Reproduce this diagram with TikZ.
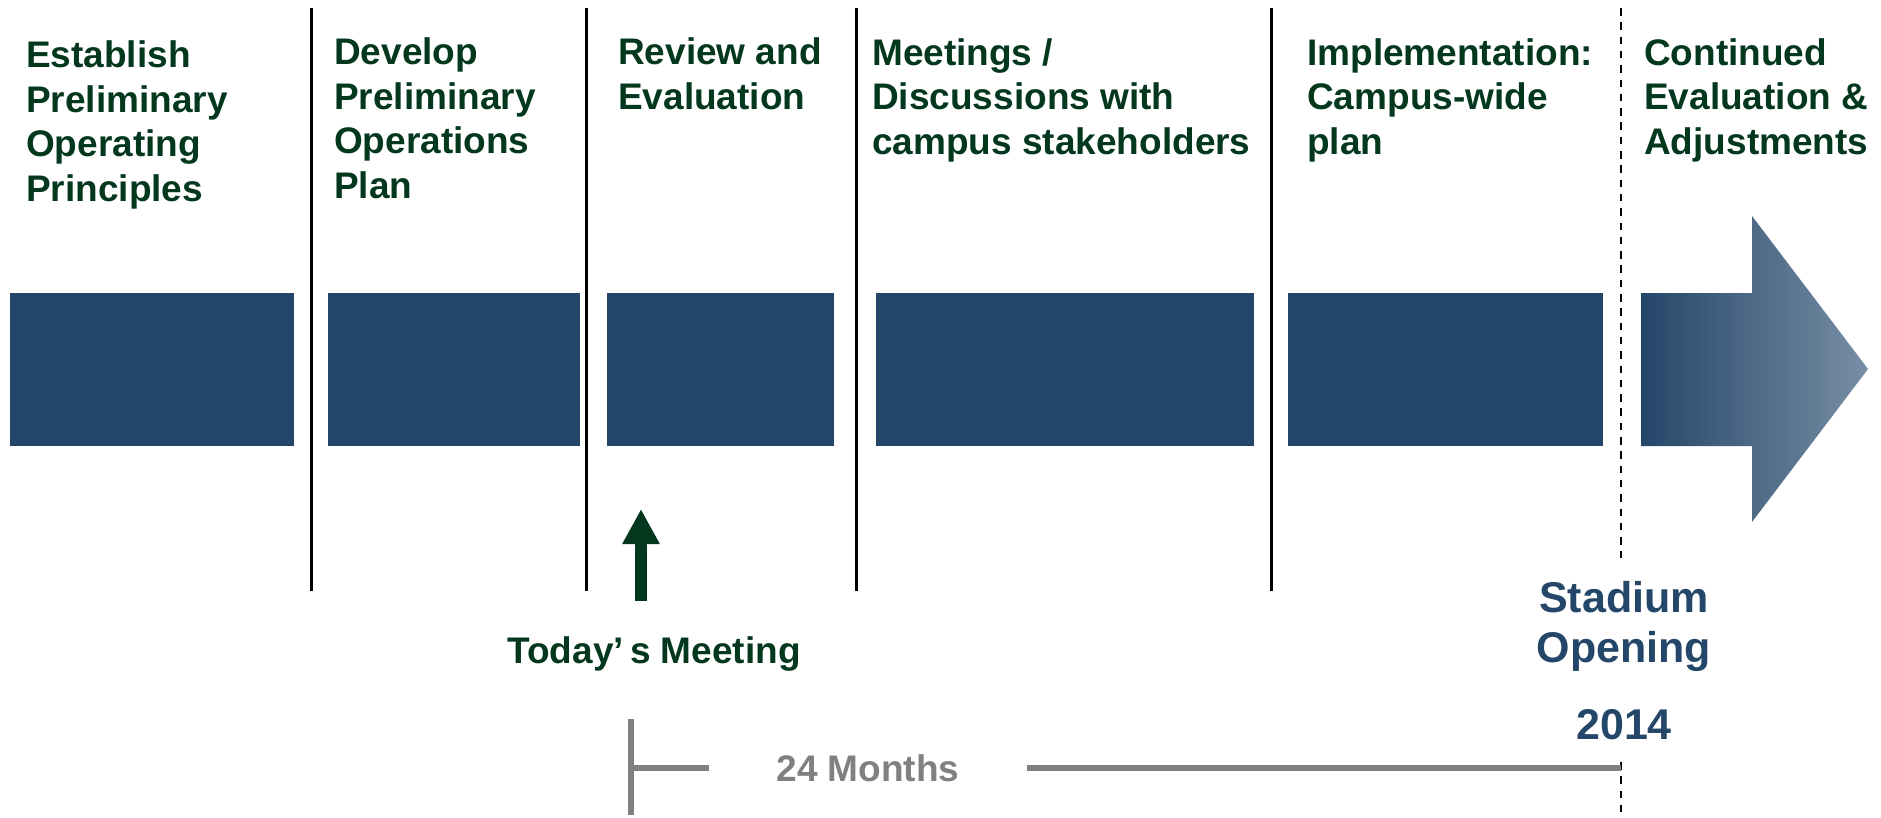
\documentclass[tikz,border=0pt]{standalone}
\usepackage{fontspec}
\setmainfont{Liberation Sans}
\usetikzlibrary{positioning,arrows.meta}

\definecolor{navy}{RGB}{36,70,105}
\definecolor{navylight}{RGB}{120,142,165}
\definecolor{darkgreen}{RGB}{3,56,30}
\definecolor{timegray}{RGB}{128,128,128}

\begin{document}
\begin{tikzpicture}[x=1pt,y=-1pt]
	\tikzstyle{bar} = [rectangle, fill=navy, inner sep=0pt, anchor=north west, minimum height=153pt];
	\tikzstyle{phase} = [anchor=base west, inner sep=0pt, align=left, text=darkgreen, font=\fontsize{37}{44.4}\selectfont\bfseries];
	\tikzstyle{divider} = [draw=black, line width=3pt];
	\tikzstyle{milestone} = [draw=black, line width=2.4pt, dash pattern=on 7.5pt off 6.8pt];
	\tikzstyle{timeline} = [draw=timegray, line width=6pt];
	\useasboundingbox (0,0) rectangle (1881,817);

	% phases (placed by the baseline of their last line)
	\node [phase] (establish) at (26,201) {Establish\\Preliminary\\Operating\\Principles};
	\node [phase] (develop) at (334,198) {Develop\\Preliminary\\Operations\\Plan};
	\node [phase] (review) at (618,109) {Review and\\Evaluation};
	\node [phase] (meetings) at (872,154) {Meetings /\\Discussions with\\campus stakeholders};
	\node [phase] (implement) at (1307,154) {Implementation:\\Campus-wide\\plan};
	\node [phase] (continued) at (1644,154) {Continued\\Evaluation \&\\Adjustments};

	\node [bar, minimum width=284pt] (bar1) at (10,293) {};
	\node [bar, minimum width=252pt] (bar2) at (328,293) {};
	\node [bar, minimum width=227pt] (bar3) at (607,293) {};
	\node [bar, minimum width=378pt] (bar4) at (876,293) {};
	\node [bar, minimum width=315pt] (bar5) at (1288,293) {};
	\path [left color=navy, right color=navylight] (1641,293) -- (1752,293) -- (1752,216) -- (1868,369)
		-- (1752,522) -- (1752,446) -- (1641,446) -- cycle;

	% dividers
	\coordinate (div1top) at (311,8);   \coordinate (div1bot) at (311,591);
	\coordinate (div2top) at (586,8);   \coordinate (div2bot) at (586,591);
	\coordinate (div3top) at (856,8);   \coordinate (div3bot) at (856,591);
	\coordinate (div4top) at (1271,8);  \coordinate (div4bot) at (1271,591);
	\draw [divider] (div1top) -- (div1bot);
	\draw [divider] (div2top) -- (div2bot);
	\draw [divider] (div3top) -- (div3bot);
	\draw [divider] (div4top) -- (div4bot);

	% today
	\node [anchor=base, inner sep=0pt, text=darkgreen, font=\fontsize{37}{44.4}\selectfont\bfseries] (today) at (654,663) {Today’\,s Meeting};
	\coordinate (nowtail) at (641,601);
	\coordinate (nowtip) at (641,509);
	\draw [darkgreen, line width=12pt, -{Triangle[width=35pt,length=35pt]}] (nowtail) -- (nowtip);

	% opening
	\node [anchor=base, inner sep=0pt, align=center, text=navy, font=\fontsize{43}{50}\selectfont\bfseries] (stadium) at (1624,662) {Stadium\\Opening};
	\node [anchor=base, inner sep=0pt, text=navy, font=\fontsize{43}{50}\selectfont\bfseries] (year) at (1624,739) {2014};
	\coordinate (dashtop) at (1621,8);
	\coordinate (dashmid) at (1621,558);
	\coordinate (dashlow) at (1621,762);
	\coordinate (dashbot) at (1621,817);
	\draw [milestone] (dashtop) -- (dashmid);
	\draw [milestone] (dashlow) -- (dashbot);

	% 24 months
	\node [anchor=base, inner xsep=67pt, inner ysep=0pt, text=timegray, font=\fontsize{37}{44.4}\selectfont\bfseries] (months) at (868,781) {24 Months};
	\coordinate (ticktop) at (631,719);
	\coordinate (tickbot) at (631,815);
	\draw [timeline] (ticktop) -- (tickbot);
	\draw [timeline] (months.west -| ticktop) -- (months) -- (months.east -| dashbot);
\end{tikzpicture}
\end{document}
